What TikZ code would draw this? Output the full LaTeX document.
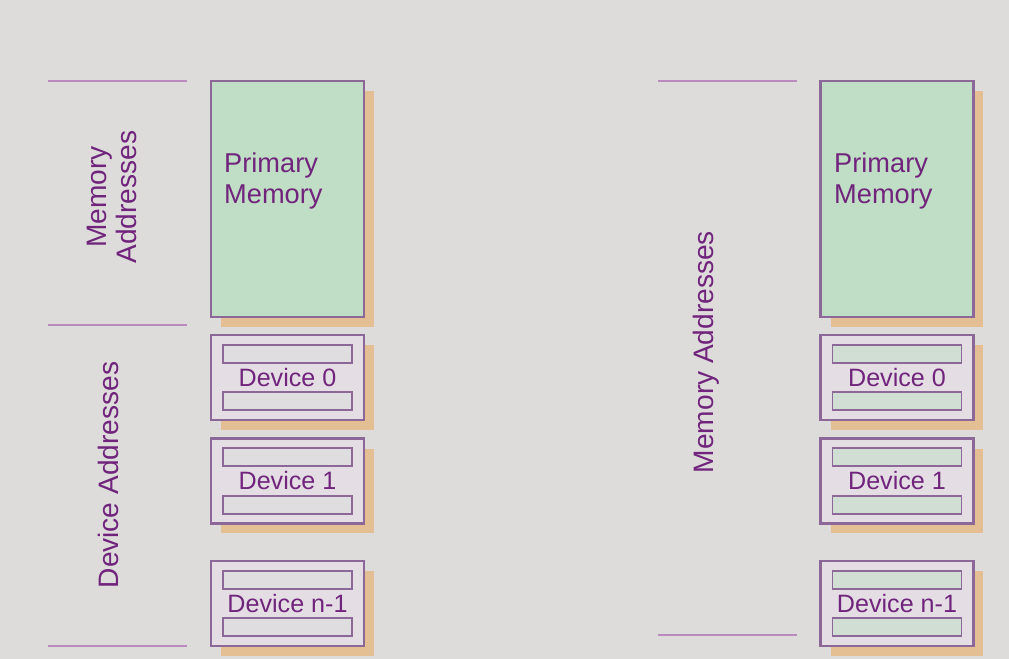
\documentclass[tikz,border=0pt]{standalone}
\usepackage{fontspec}
\setmainfont{Liberation Sans}
\usetikzlibrary{positioning, shadows}
\definecolor{slidegray}{RGB}{221,220,219}
\definecolor{boxedge}{RGB}{140,104,152}
\definecolor{dividerpink}{RGB}{186,140,190}
\definecolor{memgreen}{RGB}{192,221,197}
\definecolor{slotgreen}{RGB}{208,222,212}
\definecolor{slotgray}{RGB}{224,221,224}
\definecolor{devfill}{RGB}{228,222,228}
\definecolor{shadowtan}{RGB}{229,191,148}
\definecolor{textpurple}{RGB}{112,36,124}
\tikzset{
    unit/.style      = {draw = boxedge, line width = 1.2pt, minimum width = 3.06cm, inner sep = 0pt, general shadow = {fill = shadowtan, shadow xshift = 0.2cm, shadow yshift = -0.2cm}},
    memory/.style    = {unit, fill = memgreen, minimum height = 4.72cm},
    device/.style    = {unit, fill = devfill, minimum height = 1.7cm},
    slot/.style      = {draw = boxedge, line width = 1pt, minimum width = 2.58cm, minimum height = 0.36cm, inner sep = 0pt},
    divider/.style   = {draw = dividerpink, line width = 1.3pt},
    boxtext/.style   = {font = \fontsize{15.5}{18}\selectfont, text = textpurple},
    devtext/.style   = {font = \fontsize{14.3}{16}\selectfont, text = textpurple},
    addrlabel/.style = {font = \fontsize{16}{17.6}\selectfont, text = textpurple, rotate = 90, align = center}
}

\begin{document}
\begin{tikzpicture}[x=0.02cm, y=-0.02cm]
		\fill[slidegray] (0,0) rectangle (1009,659);

		% left: memory and devices in separate address ranges
		\draw[divider] (48,81) -- (187,81);
		\draw[divider] (48,325) -- (187,325);
		\draw[divider] (48,646) -- (187,646);
		\node[addrlabel] (lmemlabel) at (112,197) {Memory\\Addresses};
		\node[addrlabel] (ldevlabel) at (108,475) {Device Addresses};

		\node[memory] (lpm) at (287.5,199) {};
		\node[boxtext, anchor=west, align=left] (lpmtext) at (218,181) {Primary\\Memory};

		\node[device] (ldev0) at (287.5,377.5) {};
		\node[device] (ldev1) at (287.5,481) {};
		\node[device] (ldevn) at (287.5,603.5) {};
		\foreach \d in {ldev0, ldev1, ldevn} {
			\node[slot, fill=slotgray, below=0.2cm of \d.north] (\d top) {};
			\node[slot, fill=slotgray, above=0.2cm of \d.south] (\d bot) {};
		}
		\node[devtext] at (ldev0) {Device 0};
		\node[devtext] at (ldev1) {Device 1};
		\node[devtext] at (ldevn) {Device n-1};

		% right: one address range for both
		\draw[divider] (658,81) -- (797,81);
		\draw[divider] (658,635) -- (797,635);
		\node[addrlabel] (rmemlabel) at (706,352) {Memory Addresses};

		\node[memory] (rpm) at (897,199) {};
		\node[boxtext, anchor=west, align=left] (rpmtext) at (828,181) {Primary\\Memory};

		\node[device] (rdev0) at (897,377.5) {};
		\node[device] (rdev1) at (897,481) {};
		\node[device] (rdevn) at (897,603.5) {};
		\foreach \d in {rdev0, rdev1, rdevn} {
			\node[slot, fill=slotgreen, below=0.2cm of \d.north] (\d top) {};
			\node[slot, fill=slotgreen, above=0.2cm of \d.south] (\d bot) {};
		}
		\node[devtext] at (rdev0) {Device 0};
		\node[devtext] at (rdev1) {Device 1};
		\node[devtext] at (rdevn) {Device n-1};
\end{tikzpicture}
\end{document}
